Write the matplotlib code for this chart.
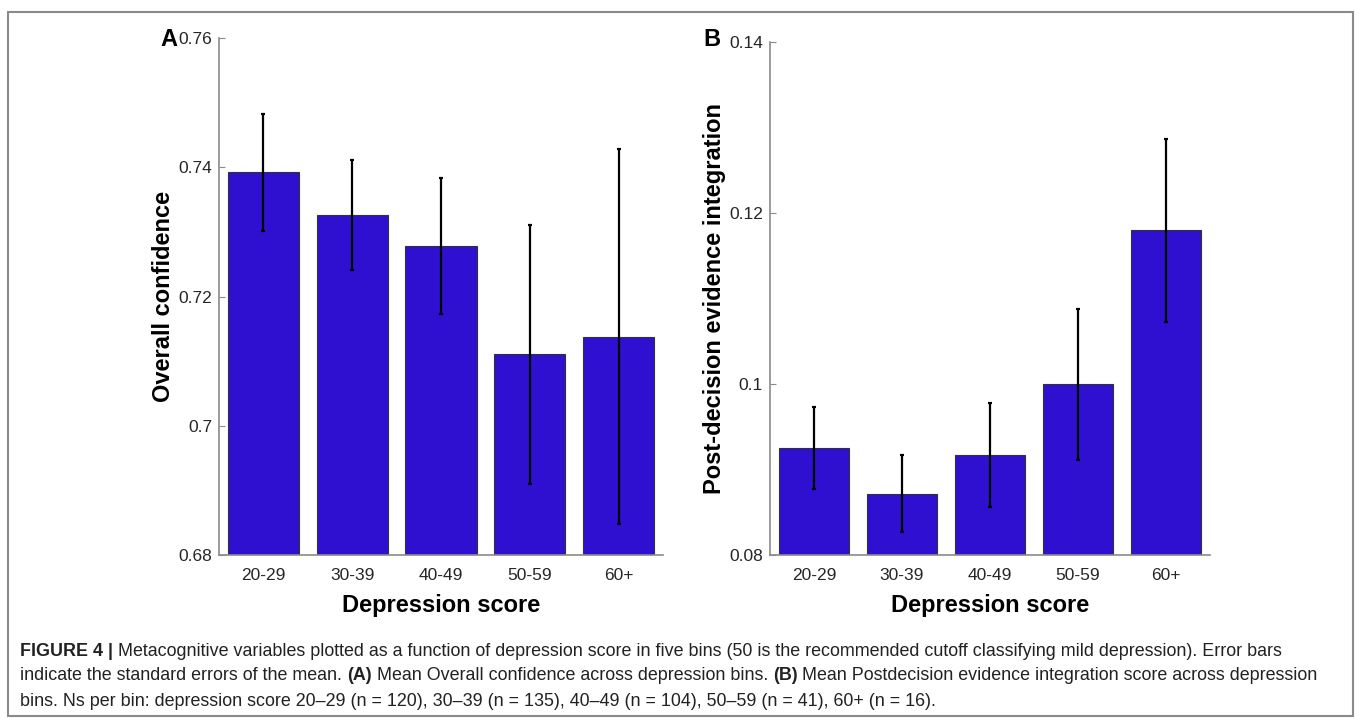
import matplotlib
matplotlib.use('Agg')
import matplotlib.pyplot as plt
from matplotlib.patches import Rectangle
from matplotlib.text import Annotation

# Depression score bins
bins = ['20-29', '30-39', '40-49', '50-59', '60+']

# Panel A: overall confidence (mean, SEM)
conf_mean = [0.7392, 0.7326, 0.7278, 0.7111, 0.7138]
conf_sem = [0.0091, 0.0085, 0.0105, 0.0200, 0.0290]

# Panel B: post-decision evidence integration (mean, SEM)
pde_mean = [0.0926, 0.0872, 0.0917, 0.1000, 0.1180]
pde_sem = [0.0048, 0.0045, 0.0061, 0.0088, 0.0107]

bar_color = '#3010D0'
plt.rcParams['font.family'] = ['Liberation Sans', 'DejaVu Sans']

fig = plt.figure(figsize=(13.55, 7.19), dpi=100)

# grey frame around the whole figure
fig.patches.append(Rectangle((8 / 1355, 3 / 719), 1345 / 1355, 704 / 719,
                             transform=fig.transFigure, fill=False,
                             edgecolor='#8a8a8a', linewidth=1.5))


def bar_panel(rect, means, sems, ylim, yticks, yticklabels, ylabel):
    ax = fig.add_axes(rect)
    x = list(range(1, len(bins) + 1))
    ax.bar(x, means, width=0.8, color=bar_color, edgecolor='#333333', linewidth=0.8, zorder=2)
    ax.errorbar(x, means, yerr=sems, fmt='none', ecolor='black', elinewidth=1.6,
                capsize=1.6, capthick=1.6, zorder=3)
    ax.set_xlim(0.5, 5.5)
    ax.set_ylim(*ylim)
    ax.set_xticks(x)
    ax.set_xticklabels(bins, fontsize=12.5, color='#262626')
    ax.set_yticks(yticks)
    ax.set_yticklabels(yticklabels, fontsize=12.5, color='#262626')
    ax.tick_params(axis='y', direction='in', length=4, color='#8a8a8a', pad=5)
    ax.tick_params(axis='x', length=0, pad=9)
    for s in ['top', 'right']:
        ax.spines[s].set_visible(False)
    for s in ['left', 'bottom']:
        ax.spines[s].set_color('#8a8a8a')
        ax.spines[s].set_linewidth(1.2)
    ax.set_xlabel('Depression score', fontsize=17, fontweight='bold', labelpad=8)
    ax.set_ylabel(ylabel, fontsize=17, fontweight='bold', labelpad=2)
    return ax


axA = bar_panel([0.1616, 0.2274, 0.3277, 0.7199], conf_mean, conf_sem,
                (0.68, 0.76), [0.68, 0.70, 0.72, 0.74, 0.76],
                ['0.68', '0.7', '0.72', '0.74', '0.76'], 'Overall confidence')
axB = bar_panel([0.5683, 0.2277, 0.3247, 0.7135], pde_mean, pde_sem,
                (0.08, 0.14), [0.08, 0.10, 0.12, 0.14],
                ['0.08', '0.1', '0.12', '0.14'], 'Post-decision evidence integration')

fig.text(160 / 1355, 1 - 40 / 719, 'A', fontsize=17, fontweight='bold', va='center', ha='left')
fig.text(703 / 1355, 1 - 39 / 719, 'B', fontsize=17, fontweight='bold', va='center', ha='left')

# caption, pieces chained so bold parts sit inline
cap_size = 12.9
lines = [
    [('FIGURE 4 |', 'bold'),
     (' Metacognitive variables plotted as a function of depression score in five bins '
      '(50 is the recommended cutoff classifying mild depression). Error bars', 'normal')],
    [('indicate the standard errors of the mean. ', 'normal'), ('(A)', 'bold'),
     (' Mean Overall confidence across depression bins. ', 'normal'), ('(B)', 'bold'),
     (' Mean Postdecision evidence integration score across depression', 'normal')],
    [('bins. Ns per bin: depression score 20\u201329 (n = 120), 30\u201339 (n = 135), '
      '40\u201349 (n = 104), 50\u201359 (n = 41), 60+ (n = 16).', 'normal')],
]
line_y = [651, 676, 701]
for pieces, yy in zip(lines, line_y):
    last = None
    for txt, w in pieces:
        if last is None:
            last = fig.text(20 / 1355, 1 - yy / 719, txt, fontsize=cap_size, fontweight=w,
                            va='center', ha='left', color='#222222')
        else:
            last = fig.add_artist(Annotation(
                txt, xy=(1, 0), xycoords=last, va='bottom', ha='left',
                fontsize=cap_size, fontweight=w, color='#222222'))

fig.savefig('out.png', dpi=100)
